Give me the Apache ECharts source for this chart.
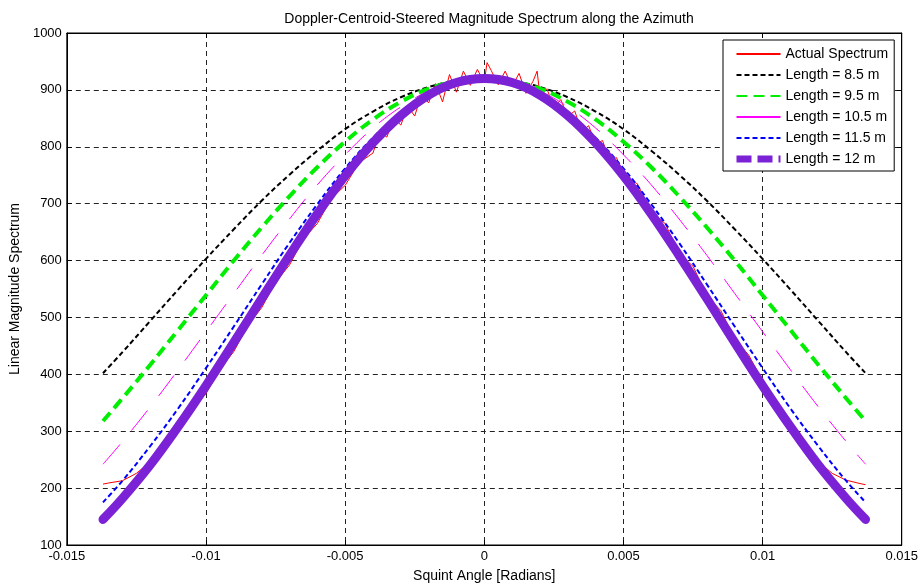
<!DOCTYPE html>
<html>
<head>
<meta charset="utf-8">
<script src="https://cdn.jsdelivr.net/npm/echarts@6/dist/echarts.min.js"></script>
<style>
  html, body { margin: 0; padding: 0; background: #fff; }
  #chart { width: 921px; height: 588px; }
</style>
</head>
<body>
<div id="chart"></div>
<script>
// Doppler-centroid-steered azimuth spectrum vs antenna length models

const xTickLabels = ['-0.015', '-0.01', '-0.005', '0', '0.005', '0.01', '0.015'];
const yTickLabels = ['100', '200', '300', '400', '500', '600', '700', '800', '900', '1000'];

// squint angles for the model curves
const angles = [-0.0137, -0.013, -0.012, -0.011, -0.010, -0.009, -0.008, -0.007, -0.006, -0.005,
  -0.004, -0.003, -0.002, -0.001, 0, 0.001, 0.002, 0.003, 0.004, 0.005, 0.006, 0.007, 0.008,
  0.009, 0.010, 0.011, 0.012, 0.013, 0.0137];

const len85 = [402, 439, 494, 549, 603, 655, 705, 751, 793, 831, 862, 887, 905, 916, 920,
  916, 905, 887, 862, 831, 793, 751, 705, 655, 603, 549, 494, 439, 402];
const len95 = [318, 358, 417, 478, 539, 600, 658, 713, 764, 809, 848, 879, 902, 915, 920,
  915, 902, 879, 848, 809, 764, 713, 658, 600, 539, 478, 417, 358, 318];
const len105 = [242, 282, 343, 408, 475, 542, 609, 673, 733, 786, 833, 870, 898, 914, 920,
  914, 898, 870, 833, 786, 733, 673, 609, 542, 475, 408, 343, 282, 242];
const len115 = [175, 213, 274, 340, 411, 484, 558, 631, 699, 762, 816, 860, 893, 913, 920,
  913, 893, 860, 816, 762, 699, 631, 558, 484, 411, 340, 274, 213, 175];
const len12 = [145, 182, 241, 308, 380, 456, 533, 609, 682, 749, 807, 855, 891, 913, 920,
  913, 891, 855, 807, 749, 682, 609, 533, 456, 380, 308, 241, 182, 145];

// measured (noisy) spectrum
const actualAngles = [-0.0137, -0.0135, -0.013, -0.0125, -0.012, -0.0115, -0.011, -0.0105, -0.010,
  -0.0095, -0.009, -0.0085, -0.008, -0.0075, -0.007, -0.0065, -0.006, -0.0055, -0.005, -0.0045,
  -0.004, -0.00375, -0.0035, -0.00325, -0.003, -0.00275, -0.0025, -0.00225, -0.002, -0.00175,
  -0.0015, -0.00125, -0.001, -0.00075, -0.0005, -0.00025, 0, 0.0001, 0.00025, 0.0005, 0.00075,
  0.001, 0.00125, 0.0015, 0.00175, 0.0019, 0.002, 0.00225, 0.0025, 0.00275, 0.003, 0.00325,
  0.0035, 0.00375, 0.004, 0.00425, 0.0045, 0.00475, 0.005, 0.0055, 0.006, 0.0065, 0.007,
  0.0075, 0.008, 0.0085, 0.009, 0.0095, 0.010, 0.0105, 0.011, 0.0115, 0.012, 0.0125, 0.013,
  0.0135, 0.0137];
const actualValues = [207, 209, 213, 226, 246, 278, 313, 338, 366,
  409, 440, 486, 517, 562, 592, 638, 665, 709, 732, 772,
  789, 826, 817, 852, 838, 871, 854, 893, 877, 911,
  879, 927, 896, 933, 908, 936, 914, 948, 934, 909, 933,
  906, 929, 894, 915, 933, 889, 902, 869, 883, 853, 863,
  827, 837, 805, 811, 775, 781, 748, 735, 685, 665, 612,
  590, 538, 512, 462, 434, 388, 352, 318, 284, 247, 226, 214,
  208, 206];

const pairs = (xs, ys) => xs.map((x, i) => [x, ys[i]]);

const chart = echarts.init(document.getElementById('chart'), null, { renderer: 'canvas' });
const font = 'Liberation Sans, Arial, sans-serif';
const gridDash = { color: '#222', type: [5, 4], width: 1 };

function lineSeries(name, data, color, width, type, extra) {
  return Object.assign({
    name: name, type: 'line', data: data, symbol: 'none', smooth: 0.4,
    lineStyle: { color: color, width: width, type: type },
    itemStyle: { color: color },
    emphasis: { disabled: true }, animation: false
  }, extra || {});
}

chart.setOption({
  backgroundColor: '#fff',
  animation: false,
  title: {
    text: 'Doppler-Centroid-Steered Magnitude Spectrum along the Azimuth',
    left: 484, top: 7, textAlign: 'center',
    textStyle: { fontFamily: font, fontSize: 14, fontWeight: 'normal', color: '#000' }
  },
  grid: { left: 66, right: 19, top: 33, bottom: 42, show: true, borderColor: '#000', borderWidth: 1 },
  legend: {
    orient: 'vertical', left: 723, top: 40,
    backgroundColor: '#fff', borderColor: '#000', borderWidth: 1,
    padding: [7, 6, 5, 10], itemGap: 7, itemWidth: 44, itemHeight: 14,
    itemStyle: { opacity: 0 },
    textStyle: { fontFamily: font, fontSize: 14, color: '#000' },
    data: [
      { name: 'Actual Spectrum' },
      { name: 'Length = 8.5 m' },
      { name: 'Length = 9.5 m' },
      { name: 'Length = 10.5 m', lineStyle: { type: 'solid' } },
      { name: 'Length = 11.5 m' },
      { name: 'Length = 12 m', lineStyle: { type: [15, 6], width: 7, cap: 'butt' } }
    ]
  },
  xAxis: [{
    type: 'value', min: -0.015, max: 0.015, interval: 0.005,
    name: 'Squint Angle [Radians]', nameLocation: 'middle', nameGap: 24,
    nameTextStyle: { fontFamily: font, fontSize: 14, color: '#000' },
    axisLine: { onZero: false, lineStyle: { color: '#000' } },
    axisTick: { inside: true, length: 5, lineStyle: { color: '#000' } },
    axisLabel: {
      fontFamily: font, fontSize: 13, color: '#000', margin: 5,
      formatter: v => xTickLabels[Math.round((v + 0.015) / 0.005)]
    },
    splitLine: { show: true, lineStyle: gridDash }
  }, {
    type: 'value', position: 'top', min: -0.015, max: 0.015, interval: 0.005,
    axisLine: { onZero: false, lineStyle: { color: '#000' } },
    axisTick: { inside: true, length: 5, lineStyle: { color: '#000' } },
    axisLabel: { show: false }, splitLine: { show: false }
  }],
  yAxis: [{
    type: 'value', min: 100, max: 1000, interval: 100,
    name: 'Linear Magnitude Spectrum', nameLocation: 'middle', nameGap: 42,
    nameTextStyle: { fontFamily: font, fontSize: 14, color: '#000' },
    axisLine: { show: true, onZero: false, lineStyle: { color: '#000' } },
    axisTick: { show: true, inside: true, length: 5, lineStyle: { color: '#000' } },
    axisLabel: {
      fontFamily: font, fontSize: 13, color: '#000', margin: 5,
      formatter: v => yTickLabels[Math.round((v - 100) / 100)]
    },
    splitLine: { show: true, lineStyle: gridDash }
  }, {
    type: 'value', position: 'right', min: 100, max: 1000, interval: 100,
    axisLine: { show: true, onZero: false, lineStyle: { color: '#000' } },
    axisTick: { show: true, inside: true, length: 5, lineStyle: { color: '#000' } },
    axisLabel: { show: false }, splitLine: { show: false }
  }],
  series: [
    lineSeries('Actual Spectrum', pairs(actualAngles, actualValues), '#ff0000', 1, 'solid', { smooth: false }),
    lineSeries('Length = 8.5 m', pairs(angles, len85), '#000000', 2, [5, 3]),
    lineSeries('Length = 9.5 m', pairs(angles, len95), '#00ee00', 4, [11, 6]),
    lineSeries('Length = 10.5 m', pairs(angles, len105), '#ff00ff', 1, [26, 18]),
    lineSeries('Length = 11.5 m', pairs(angles, len115), '#0000ff', 2, [5, 3]),
    lineSeries('Length = 12 m', pairs(angles, len12), '#7b22d6', 10, 'solid',
      { lineStyle: { color: '#7b22d6', width: 9, type: 'solid', cap: 'round', join: 'round' } })
  ]
});

window.addEventListener('resize', () => chart.resize());
</script>
</body>
</html>
